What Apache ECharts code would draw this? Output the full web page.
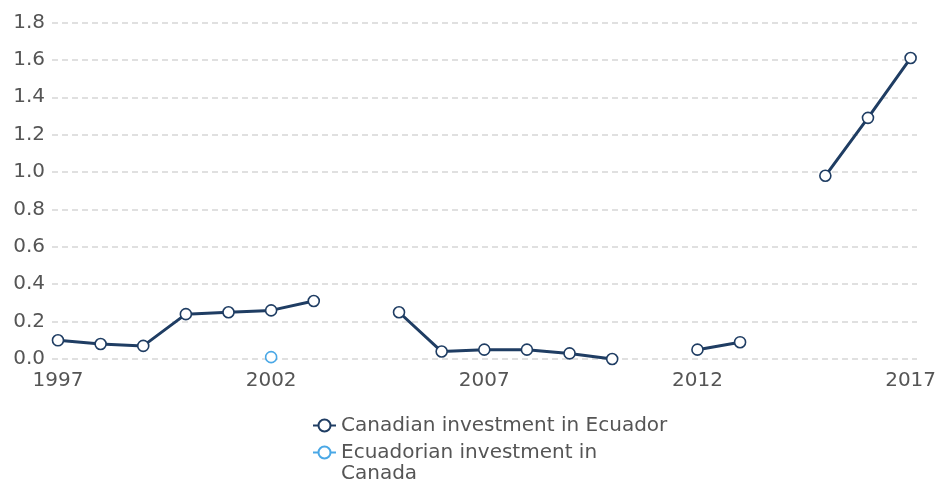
<!DOCTYPE html>
<html><head><meta charset="utf-8">
<script src="https://cdn.jsdelivr.net/npm/echarts@6/dist/echarts.min.js"></script>
<style>html,body{margin:0;padding:0;background:#fff}#c{width:940px;height:481px}</style>
</head><body><div id="c"></div>
<script>
var years = [1997,1998,1999,2000,2001,2002,2003,2004,2005,2006,2007,2008,2009,2010,2011,2012,2013,2014,2015,2016,2017];
var canadianInEcuador = [0.10,0.08,0.07,0.24,0.25,0.26,0.31,null,0.25,0.04,0.05,0.05,0.03,0.0,null,0.05,0.09,null,0.98,1.29,1.61];
var ecuadorianInCanada = [null,null,null,null,null,0.01,null,null,null,null,null,null,null,null,null,null,null,null,null,null,null];
var xTickLabels = [1997,2002,2007,2012,2017];
var seriesNames = ['Canadian investment in Ecuador','Ecuadorian investment in Canada'];

function pairs(vals){ return years.map(function(y,i){ return [y, vals[i]]; }); }
var font = 'DejaVu Sans, Verdana, sans-serif';
var legendText = {color:'#555',fontSize:20,fontFamily:font,lineHeight:21};
var chart = echarts.init(document.getElementById('c'), null, {renderer:'canvas'});
chart.setOption({
  animation:false,
  grid:{left:52,right:23,top:22.5,bottom:122},
  xAxis:{type:'value',min:1996.86,max:2017.15,
    axisLine:{show:false},axisTick:{show:false},splitLine:{show:false},
    axisLabel:{customValues:xTickLabels,color:'#555',fontSize:20,fontFamily:font,margin:12,
      formatter:function(v){return String(v);}}},
  yAxis:{type:'value',min:0,max:1.8,interval:0.2,
    axisLine:{show:false},axisTick:{show:false},
    axisLabel:{color:'#555',fontSize:20,fontFamily:font,margin:7,formatter:function(v){return v.toFixed(1);}},
    splitLine:{lineStyle:{color:'#d6d6d6',type:[6,4],width:1.5}}},
  legend:[
    {orient:'vertical',left:312,top:415,padding:0,itemWidth:23,itemHeight:15,itemGap:4,
     textStyle:legendText,data:[seriesNames[0]]},
    {orient:'vertical',left:312,top:421,padding:0,itemWidth:23,itemHeight:15,itemGap:4,
     textStyle:legendText,data:[seriesNames[1]],
     formatter:function(n){return ' \nEcuadorian investment in\nCanada';}}
  ],
  series:[
    {name:seriesNames[0],type:'line',data:pairs(canadianInEcuador),connectNulls:false,
      symbol:'circle',symbolSize:11,lineStyle:{color:'#1f3d63',width:3},
      itemStyle:{color:'#fff',borderColor:'#1f3d63',borderWidth:1.6},color:'#1f3d63'},
    {name:seriesNames[1],type:'line',data:pairs(ecuadorianInCanada),connectNulls:false,
      symbol:'circle',symbolSize:11,lineStyle:{color:'#4aa8e6',width:3},
      itemStyle:{color:'#fff',borderColor:'#4aa8e6',borderWidth:1.6},color:'#4aa8e6'}
  ]
});
</script></body></html>
